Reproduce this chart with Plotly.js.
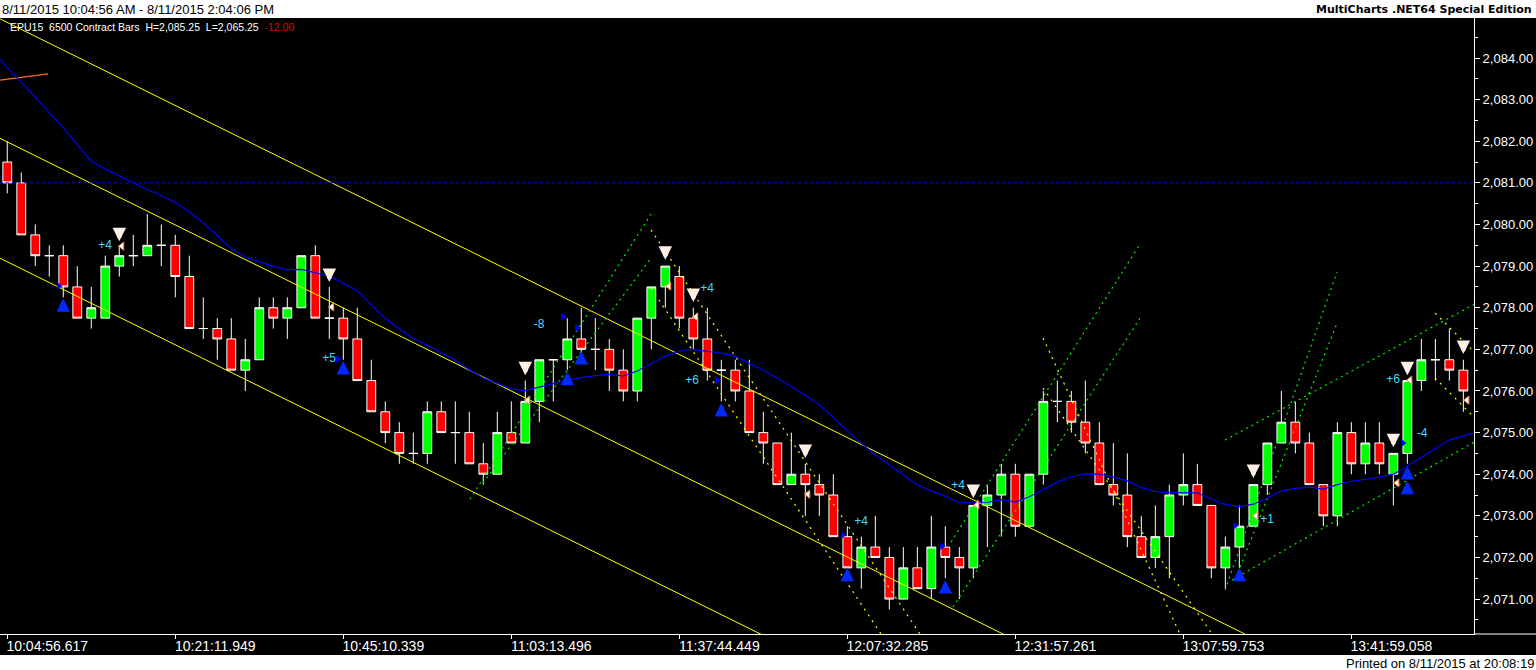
<!DOCTYPE html>
<html><head><meta charset="utf-8">
<script src="https://cdn.plot.ly/plotly-3.0.1.min.js"></script>
<style>html,body{margin:0;padding:0;background:#fff;overflow:hidden}#chart{width:1536px;height:670px}</style>
</head><body><div id="chart"></div>
<script>
// ---- x axis labels ----
const labelBars = [0, 12, 24, 36, 48, 60, 72, 84, 96];
const timeLabels = ['10:04:56.617','10:21:11.949','10:45:10.339','11:03:13.496','11:37:44.449','12:07:32.285','12:31:57.261','13:07:59.753','13:41:59.058'];

// ---- candles (6500 contract bars) ----
const opens = [2081.5,2081,2079.75,2079.25,2079.25,2078.5,2077.75,2077.75,2079,2079.25,
 2079.25,2079.5,2079.5,2078.75,2077.5,2077.5,2077.25,2076.5,2076.75,2078,
 2077.75,2078,2079.25,2077.75,2077.75,2077.25,2076.25,2075.5,2075,2074.5,
 2074.5,2075.5,2075,2075,2074.25,2074,2075,2074.75,2075.75,2076.75,
 2076.75,2077.25,2077,2077,2076.5,2076,2077.75,2078.5,2078.75,2077.75,
 2077.25,2076.5,2076.5,2076,2075,2074.75,2073.75,2074,2073.75,2073.5,
 2072.5,2071.75,2072.25,2072,2071,2071.75,2071.25,2072.25,2072,2071.75,
 2073.25,2073.5,2074,2072.75,2074,2075.75,2075.75,2075.25,2074.75,2073.75,
 2073.5,2072.5,2072,2072.5,2073.5,2073.75,2073.25,2071.75,2072.25,2072.75,
 2073.75,2074.75,2075.25,2074.75,2073.75,2073,2075,2074.25,2074.75,2074,
 2074.5,2076.25,2076.75,2076.75,2076.5];
const highs = [2082,2081.25,2080,2079.5,2079.5,2079,2078.5,2079.25,2079.5,2079.75,
 2080.25,2080,2079.75,2079.25,2078.25,2077.75,2077.75,2077.25,2078.25,2078.25,
 2078.25,2079.25,2079.5,2078.5,2078,2078,2076.75,2075.75,2075.25,2075,
 2075.75,2075.75,2075.75,2075.5,2074.75,2075.5,2075.75,2076.25,2076.75,2076.75,
 2077.75,2078,2077.75,2077.25,2077,2077.75,2078.5,2079,2079,2078,
 2078,2076.75,2076.75,2076.75,2075.5,2074.75,2075,2074.25,2074,2074,
 2072.75,2072.5,2073,2072.25,2072.25,2072.25,2073,2072.75,2072.25,2073.25,
 2073.75,2074.25,2074.25,2074,2076,2076.25,2076,2076.25,2075.25,2074.75,
 2074.5,2073,2073.25,2073.75,2074.5,2074.25,2073.25,2072.5,2073.25,2073.75,
 2074.75,2076,2075.75,2075,2073.75,2075.25,2075.25,2075.25,2075.25,2074.5,
 2076.25,2077.25,2077.25,2077.5,2076.75];
const lows = [2080.75,2079.75,2079,2078.75,2078.25,2077.75,2077.5,2077.75,2078.75,2079,
 2079.25,2079,2078.25,2077.5,2077.25,2076.75,2076.5,2076,2076.75,2077.5,
 2077.25,2078,2077.75,2077.25,2076.75,2076.25,2075.5,2074.75,2074.25,2074.25,
 2074.25,2075,2074.25,2074.25,2073.75,2074,2074.75,2074.75,2075.25,2075.75,
 2076.5,2076.75,2076.5,2076,2075.75,2075.75,2077,2078,2077.5,2077,
 2076.25,2075.75,2075.75,2075,2074.25,2073.75,2073.75,2073,2073,2072.5,
 2071.75,2071.25,2072,2070.75,2071,2071.25,2071,2071.5,2071,2071.5,
 2072.25,2072.5,2072.5,2072.75,2073.75,2075.25,2075,2074.5,2073.75,2073.25,
 2072.25,2072,2071.75,2071.5,2073.25,2073.25,2071.5,2071.25,2071.75,2072.75,
 2073.5,2074.75,2074.5,2073.75,2072.75,2072.75,2074,2074,2074,2073.25,
 2074.25,2076,2076.25,2076.25,2075.5];
const closes = [2081,2079.75,2079.25,2079.25,2078.5,2077.75,2078,2079,2079.25,2079.25,
 2079.5,2079.5,2078.75,2077.5,2077.5,2077.25,2076.5,2076.75,2078,2077.75,
 2078,2079.25,2077.75,2077.75,2077.25,2076.25,2075.5,2075,2074.5,2074.5,
 2075.5,2075,2075,2074.25,2074,2075,2074.75,2075.75,2076.75,2076.75,
 2077.25,2077,2077,2076.5,2076,2077.75,2078.5,2079,2077.75,2077.25,
 2076.5,2076.5,2076,2075,2074.75,2073.75,2074,2073.75,2073.5,2072.5,
 2071.75,2072.25,2072,2071,2071.75,2071.25,2072.25,2072,2071.75,2073.25,
 2073.5,2074,2072.75,2074,2075.75,2075.75,2075.25,2074.75,2073.75,2073.5,
 2072.5,2072,2072.5,2073.5,2073.75,2073.25,2071.75,2072.25,2072.75,2073.75,
 2074.75,2075.25,2074.75,2073.75,2073,2075,2074.25,2074.75,2074.25,2074.5,
 2076.25,2076.75,2076.75,2076.5,2076];

// ---- moving average (blue), bars -1 .. 105 ----
const maBars = Array.from({length: 107}, (_, k) => k - 1);
const maValues = [2084.15,2083.77,2083.42,2083.05,2082.69,2082.32,2081.92,2081.52,2081.33,2081.16,
 2081.00,2080.84,2080.69,2080.53,2080.30,2080.04,2079.73,2079.42,2079.22,2079.10,
 2079.00,2078.91,2078.92,2078.84,2078.76,2078.59,2078.41,2078.07,2077.74,2077.49,
 2077.26,2077.10,2076.93,2076.74,2076.51,2076.31,2076.18,2076.05,2076.01,2076.09,
 2076.18,2076.26,2076.32,2076.37,2076.40,2076.36,2076.48,2076.66,2076.84,2076.96,
 2077.00,2076.95,2076.91,2076.83,2076.67,2076.50,2076.31,2076.11,2075.90,2075.67,
 2075.36,2075.05,2074.74,2074.47,2074.22,2073.97,2073.74,2073.60,2073.47,2073.31,
 2073.31,2073.32,2073.39,2073.33,2073.46,2073.64,2073.81,2073.94,2074.01,2074.00,
 2073.93,2073.84,2073.68,2073.58,2073.56,2073.56,2073.55,2073.40,2073.27,2073.22,
 2073.28,2073.43,2073.60,2073.66,2073.69,2073.64,2073.75,2073.83,2073.88,2073.93,
 2074.00,2074.19,2074.41,2074.62,2074.82,2074.92,2075.02];

// ---- drawings: [barStart, priceStart, barEnd, priceEnd] ----
const channelLines = [[-1, 2085.02, 105, 2067.40], [-1, 2082.15, 105, 2064.53], [-1, 2079.27, 105, 2061.65]];
const greenFanLines = [[33.05,2073.40,45.98,2080.25],[33.98,2073.79,45.98,2079.19],
 [67.41,2072.37,80.91,2079.53],[67.55,2070.81,80.91,2077.75],
 [86.98,2071.22,94.98,2078.86],[88.05,2071.77,94.98,2077.63],
 [86.98,2074.82,104.76,2078.08],[87.48,2071.46,104.76,2074.77]];
const yellowFanLines = [[45.98,2079.87,65.19,2070.16],[45.98,2078.47,62.41,2070.16],
 [73.98,2077.27,83.76,2070.16],[73.98,2076.07,86.05,2070.16],
 [101.98,2077.87,104.76,2076.94],[101.98,2076.31,104.76,2075.37]];
const orangeLine = [[-0.52, 2083.47, 2.91, 2083.62]];
const refLevel = 2081.0;

// ---- signals ----
const sellBars = [8,23,37,47,49,57,69,89,99,100,104];
const sellPrices = [2079.60,2078.62,2076.38,2079.15,2078.14,2074.39,2073.43,2073.91,2074.65,2076.38,2076.89];
const buyBars = [4,24,40,41,51,60,67,88,100,100];
const buyPrices = [2078.23,2076.72,2076.46,2076.96,2075.71,2071.75,2071.46,2071.75,2074.20,2073.84];
const pnlBars = [6.99,22.98,37.98,49.98,48.91,60.98,67.91,89.98,98.98,101.05];
const pnlPrices = [2079.48,2076.77,2077.58,2078.45,2076.24,2072.85,2073.72,2072.90,2076.26,2074.97];
const pnlTexts = ['+4','+5','-8','+4','+6','+4','+4','+1','+6','-4'];
const entryBars = [3.69,23.62,39.69,40.69,50.69,59.69,66.76,87.69,99.69];
const entryPrices = [2078.52,2076.77,2077.78,2077.51,2076.26,2072.54,2072.27,2072.76,2074.75];
const exitBars = [8.19,23.19,37.19,47.26,49.19,57.19,69.27,89.19,99.27,100.19,104.27];
const exitPrices = [2079.48,2078.02,2075.78,2078.52,2077.78,2073.52,2073.26,2073.0,2073.79,2076.26,2075.78];

const barIdx = opens.map((_, i) => i);

function segTrace(segs, color, dash, width) {
  const x = [], y = [];
  segs.forEach(s => { x.push(s[0], s[2], null); y.push(s[1], s[3], null); });
  return {type:'scatter', mode:'lines', x, y, line:{color, dash, width}, hoverinfo:'skip'};
}

const traces = [
  {type:'candlestick', x:barIdx, open:opens, high:highs, low:lows, close:closes,
   increasing:{line:{color:'#FFFFFF', width:1}, fillcolor:'#00FF00'},
   decreasing:{line:{color:'#FFFFFF', width:1}, fillcolor:'#FF0000'},
   whiskerwidth:0, hoverinfo:'skip'},
  segTrace(channelLines, '#FFFF00', 'solid', 1),
  segTrace(greenFanLines, '#00F000', '2px,4px', 1.2),
  segTrace(yellowFanLines, '#FFFF00', '2px,5px', 1.2),
  segTrace(orangeLine, '#FF6A20', 'solid', 1.2),
  {type:'scatter', mode:'lines', x:maBars, y:maValues, line:{color:'#0000FF', width:1.2}, hoverinfo:'skip'},
  {type:'scatter', mode:'markers', x:entryBars, y:entryPrices, marker:{symbol:'triangle-right', size:7, color:'#0000FF'}, hoverinfo:'skip'},
  {type:'scatter', mode:'markers', x:exitBars, y:exitPrices, marker:{symbol:'triangle-left', size:7, color:'#FFFFFF', line:{color:'#FF8040', width:1}}, hoverinfo:'skip'},
  {type:'scatter', mode:'text', x:pnlBars, y:pnlPrices, text:pnlTexts, textfont:{family:'Liberation Sans, Arial, sans-serif', size:12, color:'#40D8FF'}, hoverinfo:'skip'}
];

const H = 616; // plot height px
const annotations = [];
sellBars.forEach((b, i) => annotations.push({x:b, y:sellPrices[i], xref:'x', yref:'y', text:'', showarrow:true,
  ax:0, ay:-14, arrowhead:2, arrowsize:0.6, arrowwidth:4.5, arrowcolor:'#FFF0E6', standoff:0}));
buyBars.forEach((b, i) => annotations.push({x:b, y:buyPrices[i], xref:'x', yref:'y', text:'', showarrow:true,
  ax:0, ay:14, arrowhead:2, arrowsize:0.6, arrowwidth:4.5, arrowcolor:'#0028FF', standoff:0}));
annotations.push(
  {xref:'paper', yref:'paper', x:0, y:1 + 9/H, xanchor:'left', yanchor:'middle', showarrow:false,
   text:'8/11/2015 10:04:56 AM - 8/11/2015 2:04:06 PM', font:{family:'Liberation Sans, Arial, sans-serif', size:13, color:'#000000'}},
  {xref:'paper', yref:'paper', x:1534/1474, y:1 + 9/H, xanchor:'right', yanchor:'middle', showarrow:false,
   text:'<b>MultiCharts .NET64 Special Edition</b>', font:{family:'DejaVu Sans, sans-serif', size:11, color:'#000000'}},
  {xref:'paper', yref:'paper', x:1536/1474, y:-(663-634)/H, xanchor:'right', yanchor:'middle', showarrow:false,
   text:'Printed on 8/11/2015 at 20:08:19', font:{family:'Liberation Sans Narrow, Arial Narrow, sans-serif', size:13, color:'#000000'}},
  {xref:'paper', yref:'paper', x:8/1474, y:1 - 9/H, xanchor:'left', yanchor:'middle', showarrow:false,
   text:'EPU15\u00a0\u00a06500 Contract Bars\u00a0\u00a0H=2,085.25\u00a0\u00a0L=2,065.25\u00a0\u00a0<span style="color:#E00000">-12.00</span>',
   font:{family:'Liberation Sans, Arial, sans-serif', size:10.5, color:'#FFFFFF'}}
);

const layout = {
  width:1536, height:670,
  margin:{l:0, r:62, t:18, b:36, pad:0},
  paper_bgcolor:'#000000', plot_bgcolor:'#000000',
  showlegend:false, boxgap:0.37, boxgroupgap:0,
  xaxis:{range:[-0.52, 104.76], tickmode:'array', tickvals:labelBars, ticktext:timeLabels,
    showgrid:false, zeroline:false, showline:true, linecolor:'#FFFFFF', linewidth:1,
    ticks:'outside', ticklen:4, tickcolor:'#FFFFFF', ticklabelshift:40, ticklabelstandoff:-5,
    tickfont:{family:'Liberation Sans Narrow, Arial Narrow, sans-serif', size:14, color:'#FFFFFF'},
    rangeslider:{visible:false}, fixedrange:true},
  yaxis:{side:'right', range:[2070.161, 2084.961], tick0:2071, dtick:1, tickformat:',.2f',
    showgrid:false, zeroline:false, showline:true, linecolor:'#FFFFFF', linewidth:1,
    ticks:'outside', ticklen:5, tickcolor:'#FFFFFF',
    minor:{dtick:0.5, tick0:2071, ticks:'outside', ticklen:3, tickcolor:'#FFFFFF'},
    tickfont:{family:'Liberation Sans, Arial, sans-serif', size:13, color:'#FFFFFF'}, fixedrange:true},
  shapes:[
    {type:'rect', xref:'paper', yref:'paper', x0:-0.01, x1:1.06, y0:1, y1:1.05, fillcolor:'#FFFFFF', line:{width:0}, layer:'below'},
    {type:'rect', xref:'paper', yref:'paper', x0:-0.01, x1:1.06, y0:-(655-634)/H, y1:-0.07, fillcolor:'#FFFFFF', line:{width:0}, layer:'below'},
    {type:'line', xref:'paper', yref:'paper', x0:1, x1:1.05, y0:0, y1:0, line:{color:'#FFFFFF', width:1}},
    {type:'line', xref:'paper', yref:'y', x0:0, x1:1, y0:refLevel, y1:refLevel, line:{color:'#0000FF', width:1, dash:'3px,3px'}}
  ],
  annotations
};

Plotly.newPlot('chart', traces, layout, {staticPlot:true, displayModeBar:false});
</script>
</body></html>
